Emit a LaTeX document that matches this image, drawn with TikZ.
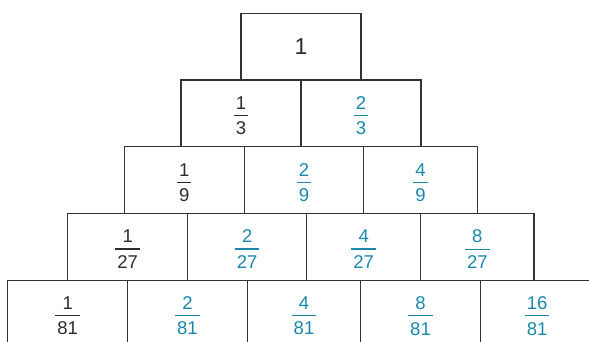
\documentclass[tikz,border=0pt]{standalone}
\usepackage{fontspec}
\setmainfont{Liberation Sans}

\definecolor{linegray}{HTML}{333333}
\definecolor{textgray}{HTML}{2B2B2B}
\definecolor{fracblue}{HTML}{1A88AD}

% fraccion con barra horizontal
\newcommand\fr[2]{%
  \setbox0\hbox{#1}\setbox2\hbox{#2}%
  \dimen0=\ifdim\wd0>\wd2 \wd0\else\wd2\fi
  \advance\dimen0 by 4pt
  \vbox{\kern5pt\hbox to\dimen0{\hfil\box0\hfil}\kern5.5pt
    \hrule height1.2pt\kern5.8pt
    \hbox to\dimen0{\hfil\box2\hfil}}}

\tikzset{
  cell/.style={draw=linegray, line width=1.1pt, minimum height=66.7pt,
    inner sep=0pt, text=textgray, font=\fontsize{18.5}{22}\selectfont},
  blue/.style={text=fracblue}
}

\begin{document}
\begin{tikzpicture}[x=1pt,y=-1pt]

        \useasboundingbox (0,0) rectangle (589,341);

        % Fila 1
        \node[cell, minimum width=120pt, font=\fontsize{23}{26}\selectfont] (a1) at (301,46.5) {1};

        % Fila 2
        \node[cell, minimum width=120pt] (b1) at (241,113.3) {\fr{1}{3}};
        \node[cell, blue, minimum width=120pt] (b2) at (361,113.3) {\fr{2}{3}};

        % Fila 3
        \node[cell, minimum width=120pt] (c1) at (184.3,180) {\fr{1}{9}};
        \node[cell, blue, minimum width=119.4pt] (c2) at (304,180) {\fr{2}{9}};
        \node[cell, blue, minimum width=113.6pt] (c3) at (420.5,180) {\fr{4}{9}};

        % Fila 4
        \node[cell, minimum width=120pt] (d1) at (127.7,246.7) {\fr{1}{27}};
        \node[cell, blue, minimum width=119pt] (d2) at (247.2,246.7) {\fr{2}{27}};
        \node[cell, blue, minimum width=114pt] (d3) at (363.7,246.7) {\fr{4}{27}};
        \node[cell, blue, minimum width=113.3pt] (d4) at (477.35,246.7) {\fr{8}{27}};

        % Fila 5
        \node[cell, minimum width=120pt] (e1) at (67.7,313.4) {\fr{1}{81}};
        \node[cell, blue, minimum width=119.6pt] (e2) at (187.5,313.4) {\fr{2}{81}};
        \node[cell, blue, minimum width=113.4pt] (e3) at (304,313.4) {\fr{4}{81}};
        \node[cell, blue, minimum width=119.6pt] (e4) at (420.5,313.4) {\fr{8}{81}};
        \node[cell, blue, minimum width=113.7pt] (e5) at (537.15,313.4) {\fr{16}{81}};

    \end{tikzpicture}
\end{document}
